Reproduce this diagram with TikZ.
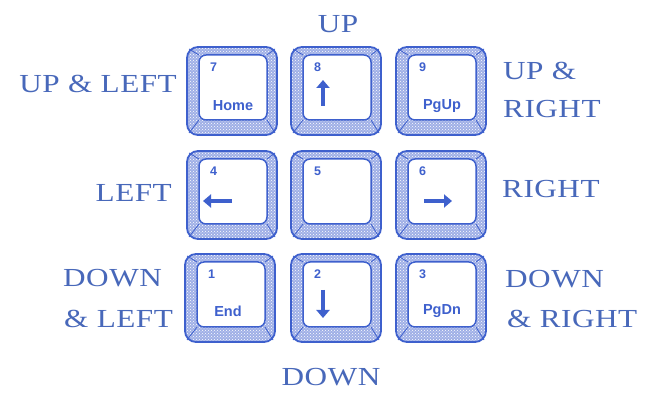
\documentclass[tikz,border=0pt]{standalone}
\usepackage{fontspec}
\usetikzlibrary{patterns,arrows.meta}
\newfontfamily\lblfont[FakeStretch=1.2,LetterSpace=2]{Liberation Serif}
\newfontfamily\capfont{Liberation Sans}
\definecolor{keyblue}{RGB}{62,96,205}
\definecolor{textblue}{RGB}{72,104,186}
\tikzset{
  dirlabel/.style={text=textblue,font=\lblfont\fontsize{26}{30}\selectfont,inner sep=0pt},
  keynum/.style={text=keyblue,font=\capfont\bfseries\fontsize{12.5}{14}\selectfont,inner sep=0pt,anchor=north west},
  keyname/.style={text=keyblue,font=\capfont\bfseries\fontsize{14.5}{16}\selectfont,inner sep=0pt},
  keyarrow/.style={draw=keyblue,line width=4.6pt,-{Triangle[length=8pt,width=13pt]}},
  pics/keycap/.style={code={
    % textured bevel between the outer cap and the top face
    \fill[keyblue!50,even odd rule]
      [rounded corners=11pt] (-45,-44) rectangle (45,44)
      [rounded corners=7pt] (-33,-36) rectangle (35,29);
    \fill[pattern=crosshatch dots,pattern color=white,even odd rule]
      [rounded corners=11pt] (-45,-44) rectangle (45,44)
      [rounded corners=7pt] (-33,-36) rectangle (35,29);
    \draw[keyblue,line width=0.8pt] (-33,-36) -- (-43,-42) (35,-36) -- (43,-42)
      (-33,29) -- (-43,42) (35,29) -- (43,42);
    \draw[keyblue,line width=1.8pt,rounded corners=11pt] (-45,-44) rectangle (45,44);
    \fill[white,rounded corners=7pt] (-33,-36) rectangle (35,29);
    \draw[keyblue,line width=1.5pt,rounded corners=7pt] (-33,-36) rectangle (35,29);
  }}
}
\begin{document}
\begin{tikzpicture}[x=1pt,y=-1pt]
\useasboundingbox (0,0) rectangle (648,395);
\fill[white] (0,0) rectangle (648,395);

% the nine keys of the numeric pad
\pic at (232,91)  {keycap};
\pic at (336,91)  {keycap};
\pic at (441,91)  {keycap};
\pic at (232,195) {keycap};
\pic at (336,195) {keycap};
\pic at (441,195) {keycap};
\pic at (230,298) {keycap};
\pic at (336,298) {keycap};
\pic at (441,298) {keycap};

% key legends
\node[keynum] (n7) at (210,63) {7};
\node[keyname] (home) at (233,106) {Home};
\node[keynum] (n8) at (314,63) {8};
\coordinate (u0) at (323,106);
\coordinate (u1) at (323,80);
\draw[keyarrow] (u0) -- (u1);
\node[keynum] (n9) at (419,63) {9};
\node[keyname] (pgup) at (442,106) {PgUp};

\node[keynum] (n4) at (210,167) {4};
\coordinate (l0) at (232,201);
\coordinate (l1) at (203,201);
\draw[keyarrow] (l0) -- (l1);
\node[keynum] (n5) at (314,167) {5};
\node[keynum] (n6) at (419,167) {6};
\coordinate (r0) at (424,201);
\coordinate (r1) at (452,201);
\draw[keyarrow] (r0) -- (r1);

\node[keynum] (n1) at (208,270) {1};
\node[keyname] (end) at (228,311) {End};
\node[keynum] (n2) at (314,270) {2};
\coordinate (d0) at (323,290);
\coordinate (d1) at (323,318);
\draw[keyarrow] (d0) -- (d1);
\node[keynum] (n3) at (419,270) {3};
\node[keyname] (pgdn) at (442,311) {PgDn};

% direction names
\node[dirlabel,anchor=base] (up) at (338,33) {UP};
\node[dirlabel,anchor=base east] (upleft) at (177,93) {UP \& LEFT};
\node[dirlabel,anchor=base west] (upright1) at (503,80) {UP \&};
\node[dirlabel,anchor=base west] (upright2) at (503,118) {RIGHT};
\node[dirlabel,anchor=base east] (left) at (172,202) {LEFT};
\node[dirlabel,anchor=base west] (right) at (502,198) {RIGHT};
\node[dirlabel,anchor=base west] (downleft1) at (63,287) {DOWN};
\node[dirlabel,anchor=base west] (downleft2) at (64,328) {\& LEFT};
\node[dirlabel,anchor=base west] (downright1) at (505,288) {DOWN};
\node[dirlabel,anchor=base west] (downright2) at (507,328) {\& RIGHT};
\node[dirlabel,anchor=base] (down) at (331,385) {DOWN};
\end{tikzpicture}
\end{document}
